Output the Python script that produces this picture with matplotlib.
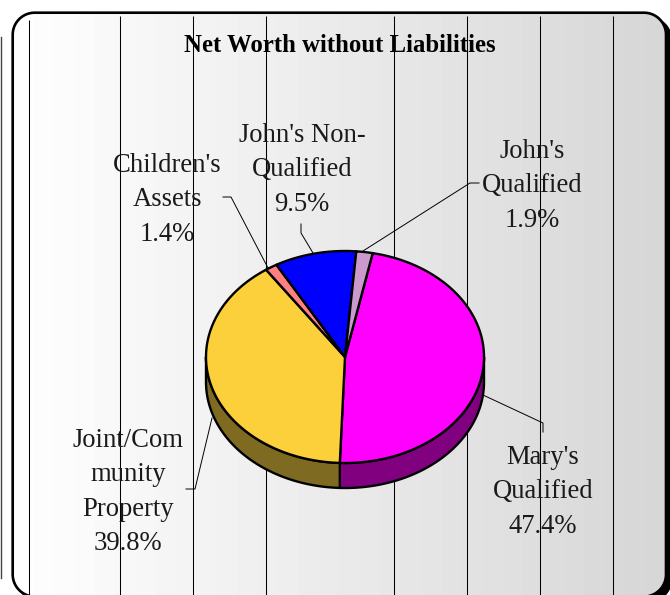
import numpy as np
import matplotlib.pyplot as plt
from matplotlib.patches import Polygon

plt.rcParams['font.family'] = ['Liberation Serif', 'DejaVu Serif']

# slices, clockwise from the start angle
categories = ["Mary's\nQualified", "Joint/Com\nmunity\nProperty", "Children's\nAssets",
              "John's Non-\nQualified", "John's\nQualified"]
values = [47.4, 39.8, 1.4, 9.5, 1.9]
top_colors = ["#FF00FF", "#FCD03B", "#FF8080", "#0000FF", "#CC99CC"]
side_colors = ["#800080", "#7F6A22", "#803F3F", "#00007F", "#664C66"]

# label centres and leader lines, pixels
label_pos = [(543, 492), (128, 492), (167, 200), (302, 170), (532, 186)]
leaders = [
    [(483, 395), (543, 423), (543, 432)],
    [(212, 418), (195, 489), (186, 489)],
    [(268, 268), (231, 197), (223, 197)],
    [(313, 253), (301, 233), (301, 224)],
    [(363, 251), (470, 183), (479, 183)],
]
grid_x = [120, 193, 266, 394, 467, 540, 613]

# pie geometry
cx, cy = 345, 357
rx, ry = 139, 106
depth = 25
start = 11.5


def rim(t):
    t = np.radians(t)
    return np.column_stack([cx + rx * np.sin(t), cy - ry * np.cos(t)])


def rounded_box(x0, y0, x1, y1, r):
    # corners as arcs, clockwise from the top left
    corners = [(x0 + r, y0 + r, 180), (x1 - r, y0 + r, 270), (x1 - r, y1 - r, 0), (x0 + r, y1 - r, 90)]
    pts = []
    for x, y, a in corners:
        t = np.radians(np.linspace(a, a + 90, 24))
        pts.append(np.column_stack([x + r * np.cos(t), y + r * np.sin(t)]))
    return np.vstack(pts)


fig = plt.figure(figsize=(6.70, 5.95), dpi=100)
ax = fig.add_axes([0, 0, 1, 1])
ax.set_xlim(0, 670)
ax.set_ylim(595, 0)
ax.axis("off")

# thin strip on the left edge
ax.plot([0.5, 0.5], [37, 578], color="#444444", lw=1.0, zorder=1)

# shadow behind the frame, gradient panel clipped to the frame
frame = rounded_box(12.7, 12.7, 666, 596.5, 22)
ax.add_patch(Polygon(rounded_box(17, 17, 672, 602, 22), fc="black", ec="none", zorder=1))
panel = Polygon(frame, fc="white", ec="none", zorder=2)
ax.add_patch(panel)
levels = np.linspace(255, 215, 32)[None, :, None].repeat(3, axis=2) / 255
img = ax.imshow(levels, extent=(13, 666, 597, 13), aspect="auto", zorder=3,
                interpolation="nearest")
img.set_clip_path(panel)
ax.set_xlim(0, 670)
ax.set_ylim(595, 0)

# vertical rules
ax.vlines(grid_x, 16, 595, color="black", lw=0.75, zorder=4)
ax.vlines(29, 20, 595, color="black", lw=0.75, zorder=4)

# frame outline on top of the panel and the rules' ends
ax.add_patch(Polygon(frame, fc="none", ec="black", lw=1.9, zorder=4.5))

# cylinder wall: only the front half of the rim shows
angle = start
for v, c in zip(values, side_colors):
    end = angle + v * 3.6
    lo, hi = max(angle, 90), min(end, 270)
    if hi > lo:
        t = np.linspace(lo, hi, 200)
        edge = rim(t)
        wall = np.vstack([edge, (edge + [0, depth])[::-1]])
        ax.add_patch(Polygon(wall, fc=c, ec="black", lw=1.7, joinstyle="round", zorder=5))
    angle = end

# top face
angle = start
for v, c in zip(values, top_colors):
    end = angle + v * 3.6
    t = np.linspace(angle, end, 300)
    wedge = np.vstack([[cx, cy], rim(t)])
    ax.add_patch(Polygon(wedge, fc=c, ec="black", lw=1.7, joinstyle="round", zorder=6))
    angle = end

# labels and leaders
for name, v, (x, y), line in zip(categories, values, label_pos, leaders):
    ax.text(x, y, f"{name}\n{v:.1f}%", ha="center", va="center", ma="center",
            fontsize=19.2, linespacing=1.5, color="#1a1a1a", zorder=7)
    xs, ys = zip(*line)
    ax.plot(xs, ys, color="black", lw=0.7, zorder=7)

ax.text(340, 46, "Net Worth without Liabilities", ha="center", va="center",
        fontsize=17.8, fontweight="bold", color="black", zorder=7)

fig.savefig("out.png", dpi=100)
